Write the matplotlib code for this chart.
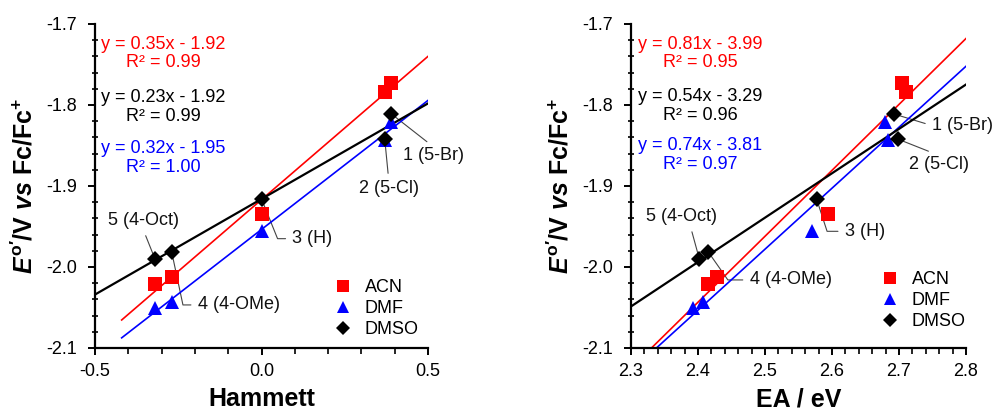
import numpy as np
import matplotlib
matplotlib.use("Agg")
import matplotlib.pyplot as plt
from matplotlib.ticker import MultipleLocator, FixedLocator

# ---------------- data ----------------
compounds = ["1 (5-Br)", "2 (5-Cl)", "3 (H)", "4 (4-OMe)", "5 (4-Oct)"]
hammett = [0.39, 0.37, 0.00, -0.27, -0.32]

e_acn = [-1.773, -1.784, -1.934, -2.012, -2.021]
e_dmf = [-1.821, -1.843, -1.956, -2.043, -2.051]
e_dmso = [-1.811, -1.842, -1.916, -1.981, -1.990]

ea_acn = [2.704, 2.711, 2.594, 2.428, 2.415]
ea_dmf = [2.679, 2.684, 2.570, 2.408, 2.393]
ea_dmso = [2.692, 2.698, 2.577, 2.415, 2.402]

solvents = ["ACN", "DMF", "DMSO"]
eq_left = ["y = 0.35x - 1.92\nR² = 0.99", "y = 0.32x - 1.95\nR² = 1.00", "y = 0.23x - 1.92\nR² = 0.99"]
eq_right = ["y = 0.81x - 3.99\nR² = 0.95", "y = 0.74x - 3.81\nR² = 0.97", "y = 0.54x - 3.29\nR² = 0.96"]

# trendline extents (x-range of each fitted line)
fit_left = [(-0.42, 0.5), (-0.42, 0.5), (-0.5, 0.5)]
fit_right = [(2.3, 2.8), (2.3, 2.8), (2.3, 2.8)]

# ---------------- style ----------------
plt.rcParams["font.family"] = ["Liberation Sans", "DejaVu Sans"]
plt.rcParams["mathtext.fontset"] = "custom"
plt.rcParams["mathtext.rm"] = "Liberation Sans:bold"
plt.rcParams["mathtext.it"] = "Liberation Sans:italic:bold"
plt.rcParams["mathtext.bf"] = "Liberation Sans:bold"

colors = ["#FF0000", "#0000FF", "#000000"]
markers = ["s", "^", "D"]
msizes = [10.5, 10.5, 8.5]
lws = [1.2, 1.2, 1.6]
TXT = 13

fig = plt.figure(figsize=(9.94, 4.13), dpi=100)
axL = fig.add_axes([0.0956, 0.1574, 0.335, 0.7845])
axR = fig.add_axes([0.6348, 0.1574, 0.337, 0.7845])

ylabel = r"$E^{\mathrm{o}\prime}$/V $vs$ Fc/Fc$^{+}$"


def style_axes(ax, xlim, xmajor, xminor):
    ax.set_ylim(-2.1, -1.7)
    ax.set_xlim(*xlim)
    for s in ["top", "right"]:
        ax.spines[s].set_visible(False)
    for s in ["left", "bottom"]:
        ax.spines[s].set_linewidth(1.6)
    ax.yaxis.set_major_locator(MultipleLocator(0.1))
    ax.yaxis.set_minor_locator(MultipleLocator(0.02))
    ax.xaxis.set_major_locator(xmajor)
    ax.xaxis.set_minor_locator(xminor)
    ax.yaxis.set_major_formatter(plt.FuncFormatter(lambda v, p: f"{v:.1f}"))
    ax.xaxis.set_major_formatter(plt.FuncFormatter(lambda v, p: f"{v:.1f}"))
    ax.tick_params(axis="both", which="major", direction="out", length=5, width=1.4,
                   labelsize=13, pad=6)
    ax.tick_params(axis="y", which="major", pad=8)
    ax.tick_params(axis="y", which="minor", direction="inout", length=4, width=1.2)
    ax.tick_params(axis="x", which="minor", direction="out", length=4, width=1.2)
    ax.set_ylabel(ylabel, fontsize=18, fontweight="bold", labelpad=6)


def draw_panel(ax, xs_list, ys_list, fits, eqs, eq_x, eq_ys):
    for i, (xs, ys) in enumerate(zip(xs_list, ys_list)):
        m, b = np.polyfit(xs, ys, 1)
        x0, x1 = fits[i]
        xl = np.array([x0, x1])
        ax.plot(xl, m * xl + b, color=colors[i], lw=lws[i], zorder=2)
    for i, (xs, ys) in enumerate(zip(xs_list, ys_list)):
        ax.plot(xs, ys, linestyle="none", marker=markers[i], ms=msizes[i],
                color=colors[i], markeredgewidth=0, label=solvents[i], zorder=3 + i)
    for i, t in enumerate(eqs):
        ax.text(eq_x, eq_ys[i], t, transform=ax.transAxes, ha="center", va="center",
                multialignment="center", fontsize=TXT, color=colors[i], linespacing=1.1)


xsL = [hammett, hammett, hammett]
ysL = [e_acn, e_dmf, e_dmso]
xsR = [ea_acn, ea_dmf, ea_dmso]
ysR = [e_acn, e_dmf, e_dmso]

style_axes(axL, (-0.5, 0.5), FixedLocator([-0.5, 0.0, 0.5]), MultipleLocator(0.1))
style_axes(axR, (2.3, 2.8), MultipleLocator(0.1), MultipleLocator(0.02))
axL.set_xlabel("Hammett", fontsize=18, fontweight="bold", labelpad=5)
axR.set_xlabel("EA / eV", fontsize=18, fontweight="bold", labelpad=5)

# equation blocks: order top->bottom is ACN, DMSO, DMF
draw_panel(axL, xsL, ysL, fit_left, eq_left, 0.204, [0.910, 0.586, 0.744])
draw_panel(axR, xsR, ysR, fit_right, eq_right, 0.206, [0.910, 0.596, 0.747])

# legends
for ax, anchor in [(axL, (0.718, 0.212)), (axR, (0.746, 0.238))]:
    ax.legend(loc="upper left", bbox_to_anchor=anchor, frameon=False, fontsize=TXT,
              handlelength=1.0, handletextpad=0.7, borderpad=0, borderaxespad=0,
              labelspacing=0.22, markerscale=0.85)

# compound labels with leader lines (pointing at DMSO points)
ann_left = [
    ((30.5, -30.0), "center", (0.5, 1.0), "arc3"),
    ((2.9, -35.8), "center", (0.5, 1.0), "arc3"),
    ((22.3, -28.6), "left", (0.0, 0.5), "angle,angleA=0,angleB=112,rad=0"),
    ((18.9, -38.4), "left", (0.0, 0.5), "angle,angleA=0,angleB=102,rad=0"),
    ((-8.6, 27.6), "center", (0.5, 0.0), "arc3"),
]
ann_right = [
    ((27.6, -8.4), "left", (0.0, 0.5), "arc3"),
    ((30.0, -18.0), "center", (0.5, 1.0), "arc3"),
    ((20.4, -23.3), "left", (0.0, 0.5), "angle,angleA=0,angleB=108,rad=0"),
    ((30.0, -20.4), "left", (0.0, 0.5), "angle,angleA=0,angleB=125,rad=0"),
    ((-12.8, 30.5), "center", (0.62, 0.0), "arc3"),
]
for ax, xs, anns in [(axL, hammett, ann_left), (axR, ea_dmso, ann_right)]:
    for i, (off, ha, rp, cs) in enumerate(anns):
        ax.annotate(compounds[i], xy=(xs[i], e_dmso[i]), xytext=off,
                    textcoords="offset points", ha=ha, va="center", fontsize=TXT,
                    color="#111111",
                    arrowprops=dict(arrowstyle="-", color="#444444", lw=0.8,
                                    relpos=rp, connectionstyle=cs,
                                    shrinkA=3, shrinkB=3),
                    zorder=1)

fig.savefig("out.png", dpi=100)
